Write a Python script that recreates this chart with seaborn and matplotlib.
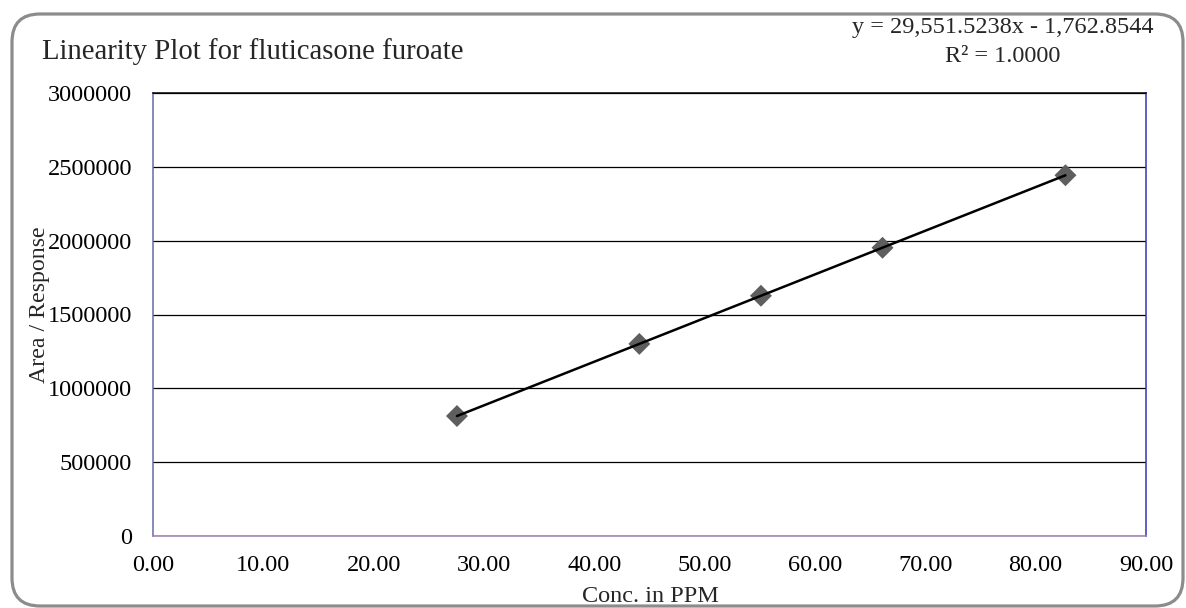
import matplotlib
matplotlib.use("Agg")
import matplotlib.pyplot as plt
from matplotlib.patches import FancyBboxPatch
from matplotlib.transforms import IdentityTransform
import seaborn as sns
import pandas as pd

# Data
conc_ppm = [27.55, 44.08, 55.10, 66.12, 82.70]
area_response = [812500, 1301000, 1627000, 1952000, 2443000]
x_ticks = [0, 10, 20, 30, 40, 50, 60, 70, 80, 90]
y_ticks = [0, 500000, 1000000, 1500000, 2000000, 2500000, 3000000]
title_text = "Linearity Plot for fluticasone furoate"
equation_text = "y = 29,551.5238x - 1,762.8544"
r2_text = "R² = 1.0000"
x_label = "Conc. in PPM"
y_label = "Area / Response"

df = pd.DataFrame({"conc": conc_ppm, "area": area_response})

sns.set_style("white")
plt.rcParams["font.family"] = ["Liberation Serif", "DejaVu Serif"]

W, H = 1186, 608
fig = plt.figure(figsize=(W / 100, H / 100), dpi=100)
ax = fig.add_axes([153 / W, 1 - 536 / H, (1146 - 153) / W, (536 - 93) / H])

sns.regplot(data=df, x="conc", y="area", ax=ax, ci=None, truncate=True,
            marker="D",
            scatter_kws={"s": 125, "color": "#5e5e5e", "edgecolor": "none", "alpha": 1, "zorder": 3},
            line_kws={"color": "black", "lw": 1.8, "zorder": 4})

ax.set_xlim(0, 90)
ax.set_ylim(0, 3000000)
ax.set_xticks(x_ticks)
ax.set_xticklabels([f"{v:.2f}" for v in x_ticks])
ax.set_yticks(y_ticks)
ax.set_yticklabels([str(v) for v in y_ticks])
ax.tick_params(axis="both", length=0, labelsize=17.5, colors="black")
ax.tick_params(axis="y", pad=15)
ax.tick_params(axis="x", pad=14)
ax.set_xlabel("")
ax.set_ylabel("")

ax.yaxis.grid(True, color="black", lw=0.9)
ax.xaxis.grid(False)
ax.set_axisbelow(True)

for side, col in [("top", "black"), ("left", "#6a6aa8"), ("bottom", "#a07eb0"), ("right", "#3434b4")]:
    ax.spines[side].set_visible(True)
    ax.spines[side].set_color(col)
    ax.spines[side].set_linewidth(1.1)

fig.text(42 / W, 1 - 59 / H, title_text, fontsize=20.7, ha="left", va="baseline")
fig.text(1003 / W, 1 - 27 / H, equation_text, fontsize=17.5, ha="center", va="center")
fig.text(1003 / W, 1 - 56 / H, r2_text, fontsize=17.5, ha="center", va="center")
fig.text(650 / W, 1 - 597 / H, x_label, fontsize=17.5, ha="center", va="center")
fig.text(40 / W, 1 - 305 / H, y_label, fontsize=17.2, ha="center", va="center", rotation=90)

border = FancyBboxPatch((12, 2), 1171, 592, boxstyle="round,pad=0,rounding_size=28",
                        transform=IdentityTransform(), facecolor="none",
                        edgecolor="#8c8c8c", lw=2.3, zorder=0)
fig.patches.append(border)

fig.savefig("out.png", dpi=100)
